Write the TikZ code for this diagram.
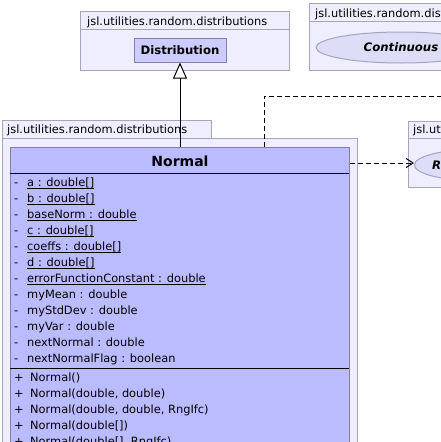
\documentclass[tikz,border=0pt]{standalone}
\usepackage{fontspec}
\setmainfont{DejaVu Sans}
\usetikzlibrary{shapes.geometric,arrows.meta}
\definecolor{pkgfill}{RGB}{238,238,255}
\definecolor{pkgline}{RGB}{165,165,192}
\definecolor{clsfill}{RGB}{187,187,255}
\definecolor{clsfilltwo}{RGB}{204,204,255}
\definecolor{clsline}{RGB}{128,128,168}
\definecolor{ellfill}{RGB}{221,221,248}
\begin{document}
\begin{tikzpicture}[x=1pt,y=-1pt,
  font=\fontsize{11.4}{13}\selectfont,
  pkg/.style={draw=pkgline,fill=pkgfill,line width=1pt},
  pkgsep/.style={draw=pkgline,line width=1pt},
  cls/.style={draw=clsline,fill=clsfill,line width=1pt,inner sep=0pt},
  clstwo/.style={draw=clsline,fill=clsfilltwo,line width=1pt,inner sep=0pt},
  ell/.style={ellipse,draw=pkgline,fill=ellfill,line width=1pt,inner sep=0pt},
  txt/.style={anchor=base west,inner sep=0pt},
  sep/.style={draw=black,line width=1pt},
  uline/.style={draw=black,line width=0.9pt},
  dep/.style={draw=black,line width=1pt,dash pattern=on 5pt off 3pt},
  inherit/.style={draw=black,line width=1pt,-{Triangle[open,fill=white,length=16pt,width=14pt]}},
  realize/.style={dep,-{Straight Barb[length=7pt,width=9pt]}},
  ttl/.style={font=\fontsize{14}{16}\selectfont\bfseries},
  sttl/.style={font=\fontsize{11.7}{14}\selectfont\bfseries},
  ittl/.style={font=\fontsize{11.7}{14}\selectfont\bfseries\itshape}]
\useasboundingbox (0,0) rectangle (441,442);
\clip (0,0) rectangle (441,442);

% --- package of Distribution
\draw[pkg] (80,11) rectangle (289,70);
\draw[pkgsep] (80,29) -- (289,29);
\node[txt] (pkgdist) at (87,25) {jsl.utilities.random.distributions};
\node[clstwo,sttl,minimum width=92pt,minimum height=24pt] (dist) at (180,50) {Distribution};

% --- package of Continuous
\draw[pkg] (309,3) rectangle (470,70);
\draw[pkgsep] (309,21) -- (470,21);
\node[txt] (pkgcont) at (315,17) {jsl.utilities.random.distributions};
\node[ell,ittl,minimum width=170pt,minimum height=31pt] (cont) at (401,47.5) {Continuous};

% --- package of the right interface
\draw[pkg] (408,121) rectangle (480,187);
\draw[pkgsep] (408,138) -- (480,138);
\node[txt] (pkgrnd) at (413,133) {jsl.utilities.random.distributions};
\node[ell,minimum width=120pt,minimum height=31pt,anchor=west] (rnd) at (414,165) {};
\node[txt,ittl] (rndlbl) at (432,169.5) {R};

% --- package of Normal
\draw[pkg] (2,120) rectangle (211,138);
\draw[pkg] (2,138) rectangle (357,470);
\node[txt] (pkgnorm) at (7,133) {jsl.utilities.random.distributions};
\node[cls,anchor=north west,minimum width=339pt,minimum height=320pt] (normal) at (10,147) {};
\node[ttl,anchor=base,inner sep=0pt] (title) at (180,166) {Normal};
\draw[sep] (10,173) -- (349,173);
\draw[sep] (10,368) -- (349,368);

% attributes
\node[txt] (d1) at (14,186) {-};  \node[txt] (a1) at (27,186) {a : double[]};
\node[txt] (d2) at (14,202) {-};  \node[txt] (a2) at (27,202) {b : double[]};
\node[txt] (d3) at (14,218) {-};  \node[txt] (a3) at (27,218) {baseNorm : double};
\node[txt] (d4) at (14,234) {-};  \node[txt] (a4) at (27,234) {c : double[]};
\node[txt] (d5) at (14,250) {-};  \node[txt] (a5) at (27,250) {coeffs : double[]};
\node[txt] (d6) at (14,266) {-};  \node[txt] (a6) at (27,266) {d : double[]};
\node[txt] (d7) at (14,282) {-};  \node[txt] (a7) at (27,282) {errorFunctionConstant : double};
\node[txt] (d8) at (14,298) {-};  \node[txt] (a8) at (27,298) {myMean : double};
\node[txt] (d9) at (14,314) {-};  \node[txt] (a9) at (27,314) {myStdDev : double};
\node[txt] (d10) at (14,330) {-}; \node[txt] (a10) at (27,330) {myVar : double};
\node[txt] (d11) at (14,346) {-}; \node[txt] (a11) at (27,346) {nextNormal : double};
\node[txt] (d12) at (14,362) {-}; \node[txt] (a12) at (27,362) {nextNormalFlag : boolean};
\foreach \n in {a1,a2,a3,a4,a5,a6,a7}
  \draw[uline] ([yshift=-2.5pt]\n.base west) -- ([yshift=-2.5pt]\n.base east);

% operations
\node[txt] (p1) at (14,381) {+}; \node[txt] (m1) at (30,381) {Normal()};
\node[txt] (p2) at (14,397) {+}; \node[txt] (m2) at (30,397) {Normal(double, double)};
\node[txt] (p3) at (14,413) {+}; \node[txt] (m3) at (30,413) {Normal(double, double, RngIfc)};
\node[txt] (p4) at (14,429) {+}; \node[txt] (m4) at (30,429) {Normal(double[])};
\node[txt] (p5) at (14,445) {+}; \node[txt] (m5) at (30,445) {Normal(double[], RngIfc)};

% --- connectors
\draw[inherit] (normal.north -| dist.south) -- (dist.south);
\coordinate (contend) at (445,96);
\draw[dep] (normal.north -| 264,0) |- (contend);
\draw[realize] (normal.east |- 0,163) -- (rnd.west |- 0,163);
\end{tikzpicture}
\end{document}
